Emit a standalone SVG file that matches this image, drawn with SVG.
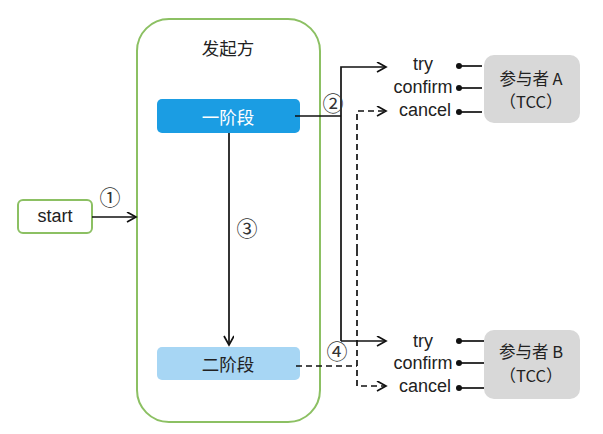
<svg xmlns="http://www.w3.org/2000/svg" width="603" height="434" viewBox="0 0 603 434">
<style>
text{font-family:"Liberation Sans","Noto Sans CJK SC",sans-serif;fill:#222;text-anchor:middle;dominant-baseline:central}
.cjk{font-family:"Noto Sans CJK SC","Liberation Sans",sans-serif;font-size:17.5px}
.pt{font-size:16.5px}
.lbl{font-size:18px}
.num{font-family:"Noto Sans CJK SC","DejaVu Sans",sans-serif;font-size:21px;fill:#333}
.ln{fill:none;stroke:#111;stroke-width:1.7}
.dash{stroke-dasharray:6 4}
.part{fill:#d8d8d8}
</style>
<defs>
<marker id="arr" markerWidth="12" markerHeight="12" refX="10" refY="5" orient="auto" markerUnits="userSpaceOnUse">
<path d="M1,0 L10,5 L1,10" fill="none" stroke="#111" stroke-width="1.7"/>
</marker>
<marker id="dot" markerWidth="8" markerHeight="8" refX="4" refY="4" markerUnits="userSpaceOnUse">
<circle cx="4" cy="4" r="3" fill="#111"/>
</marker>
</defs>
<g id="initiator">
<rect x="137" y="19" width="183" height="403" rx="32" fill="#fff" stroke="#8cc063" stroke-width="2"/>
<text class="cjk" x="228" y="47">发起方</text>
</g>
<g id="phase1">
<rect x="157" y="99" width="143" height="34" rx="5" fill="#1b9de3"/>
<text class="cjk" x="228" y="116" style="fill:#fff">一阶段</text>
</g>
<g id="phase2">
<rect x="157" y="347" width="143" height="33" rx="5" fill="#a7d6f4"/>
<text class="cjk" x="228" y="363">二阶段</text>
</g>
<g id="start">
<rect x="18" y="200" width="74" height="33" rx="5" fill="#fff" stroke="#8cc063" stroke-width="2"/>
<text class="lbl" x="55" y="216">start</text>
</g>
<g id="participantA">
<rect class="part" x="484" y="55" width="96" height="68" rx="10"/>
<text class="cjk pt" x="531" y="78">参与者 A</text>
<text class="cjk pt" x="531" y="101">（TCC）</text>
<text class="lbl" x="423" y="64">try</text>
<text class="lbl" x="423" y="87">confirm</text>
<text class="lbl" x="425" y="110">cancel</text>
</g>
<g id="participantB">
<rect class="part" x="484" y="330" width="96" height="69" rx="10"/>
<text class="cjk pt" x="531" y="351">参与者 B</text>
<text class="cjk pt" x="531" y="375">（TCC）</text>
<text class="lbl" x="423" y="341">try</text>
<text class="lbl" x="423" y="363">confirm</text>
<text class="lbl" x="425" y="386">cancel</text>
</g>
<g id="connectors">
<path class="ln" d="M92,217 H136" marker-end="url(#arr)"/>
<path class="ln" d="M229,133 V345" marker-end="url(#arr)"/>
<path class="ln" d="M295,116 H341"/>
<path class="ln" d="M341,341 V67 H386" marker-end="url(#arr)"/>
<path class="ln" d="M341,341 H386" marker-end="url(#arr)"/>
<path class="ln dash" d="M296,366 H357"/>
<path class="ln dash" d="M357,250 V111 H386" marker-end="url(#arr)"/>
<path class="ln dash" d="M357,250 V386 H386" marker-end="url(#arr)"/>
<path class="ln" d="M482,66 H459" marker-end="url(#dot)"/>
<path class="ln" d="M482,88 H459" marker-end="url(#dot)"/>
<path class="ln" d="M482,112 H459" marker-end="url(#dot)"/>
<path class="ln" d="M484,341 H459" marker-end="url(#dot)"/>
<path class="ln" d="M484,363 H459" marker-end="url(#dot)"/>
<path class="ln" d="M484,388 H459" marker-end="url(#dot)"/>
<text class="num" x="110" y="196">①</text>
<text class="num" x="333" y="102">②</text>
<text class="num" x="247" y="227">③</text>
<text class="num" x="337" y="350">④</text>
</g>
</svg>
